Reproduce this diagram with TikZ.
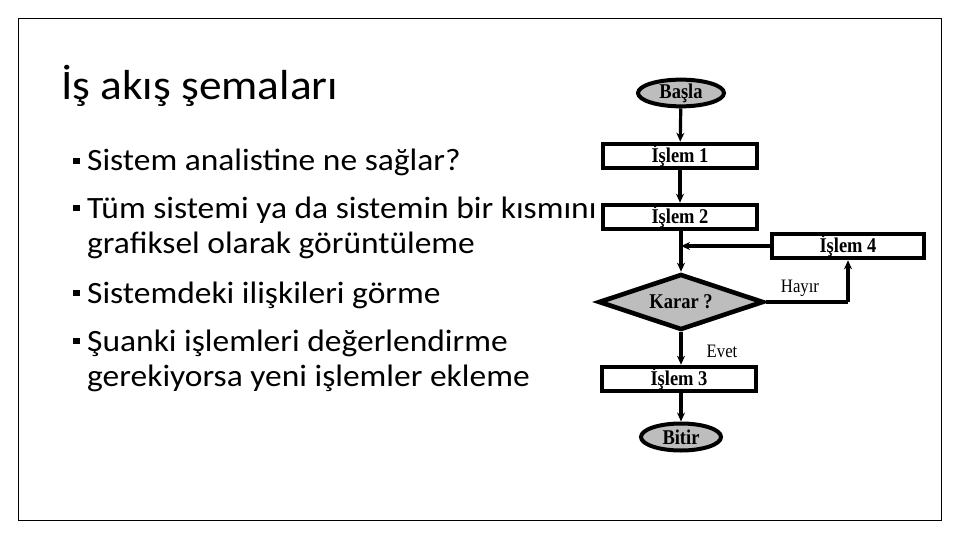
\documentclass[tikz,border=0pt]{standalone}
\usepackage{fontspec}
\setmainfont{Carlito}[FakeStretch=1.08]
\newfontfamily\fcfont{Liberation Serif}[FakeStretch=0.88]
\usetikzlibrary{shapes.geometric,arrows.meta}
\begin{document}
\begin{tikzpicture}[x=1pt,y=-1pt,
  txt/.style={anchor=base west,inner sep=0pt,font=\fontsize{31}{36}\selectfont},
  bsq/.style={fill=black,minimum size=6.5pt,inner sep=0pt},
  fcf/.style={font=\fcfont\bfseries\fontsize{21}{22}\selectfont},
  procbox/.style={fcf,draw=black,line width=4.6pt,fill=white,minimum width=154pt,minimum height=24pt,inner sep=0pt},
  term/.style={fcf,ellipse,draw=black,line width=4pt,fill=gray!52,inner sep=0pt},
  dec/.style={fcf,diamond,aspect=2.9,draw=black,line width=4.6pt,fill=gray!52,inner sep=0pt,minimum width=165pt,minimum height=56pt},
  conn/.style={line width=3.2pt,-{Stealth[length=9pt,width=8pt]}},
  lbl/.style={font=\fcfont\fontsize{19}{20}\selectfont,inner sep=0pt}
]
\useasboundingbox (0,0) rectangle (960,540);
\fill[white] (0,0) rectangle (960,540);
\draw[line width=1.5pt] (18.5,18.5) rectangle (941.5,520.5);

\node[anchor=base west,inner sep=0pt,font=\fontsize{42}{48}\selectfont] (title) at (61,100) {İş akış şemaları};

\node[bsq] (b1) at (76.5,161) {};
\node[txt] (t1) at (87,171) {Sistem analistine ne sağlar?};
\node[bsq] (b2) at (76.5,208) {};
\node[txt] (t2) at (87,218) {Tüm sistemi ya da sistemin bir kısmını};
\node[txt] (t2b) at (87,253) {grafiksel olarak görüntüleme};
\node[bsq] (b3) at (76.5,293) {};
\node[txt] (t3) at (87,303) {Sistemdeki ilişkileri görme};
\node[bsq] (b4) at (76.5,341) {};
\node[txt] (t4) at (87,351) {Şuanki işlemleri değerlendirme};
\node[txt] (t4b) at (87,386) {gerekiyorsa yeni işlemler ekleme};

% flowchart
\node[term,minimum width=86pt,minimum height=24pt] (start) at (681,93) {Başla};
\node[procbox] (p1) at (680,156) {İşlem 1};
\node[procbox] (p2) at (680,217) {İşlem 2};
\node[procbox,minimum width=152pt] (p4) at (848,246) {İşlem 4};
\node[dec] (karar) at (681,302) {Karar ?};
\node[procbox] (p3) at (679,379) {İşlem 3};
\node[term,minimum width=80pt,minimum height=27pt] (end) at (681,437) {Bitir};

\coordinate (join) at (681,246);
\coordinate (hc) at (848,302);

\draw[conn] (start) -- (p1);
\draw[conn] (p1) -- (p2);
\draw[conn] (p2.south -| join) -- (karar.north);
\draw[conn] (p4.west) -- (join);
\draw[line width=3.2pt] (karar.east) -- (hc);
\draw[conn] (hc) -- (p4.south);
\draw[conn] (karar.south) -- (p3.north -| karar.south);
\draw[conn] (p3.south -| end.north) -- (end.north);

\node[lbl] (hayir) at (800,288) {Hayır};
\node[lbl] (evet) at (722,351) {Evet};
\end{tikzpicture}
\end{document}
